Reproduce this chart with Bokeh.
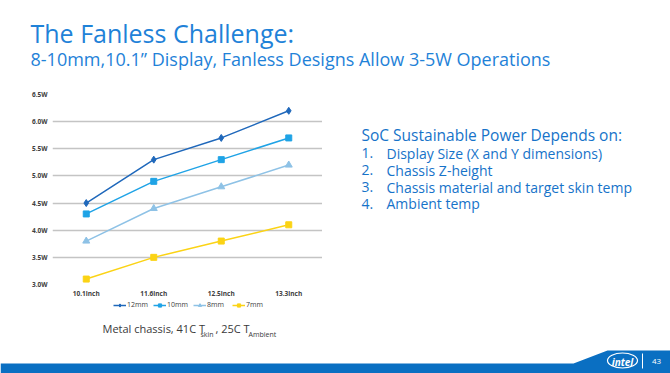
from bokeh.plotting import figure
from bokeh.models import Legend, LegendItem, FixedTicker, Range1d
from bokeh.layouts import column, row
from bokeh.embed import file_html
from bokeh.resources import INLINE
from bokeh.core.properties import value

# ---- data ----
sizes = ["10.1inch", "11.6inch", "12.5inch", "13.3inch"]
series_names = ["12mm", "10mm", "8mm", "7mm"]
mm12 = [4.5, 5.3, 5.7, 6.2]
mm10 = [4.3, 4.9, 5.3, 5.7]
mm8 = [3.8, 4.4, 4.8, 5.2]
mm7 = [3.1, 3.5, 3.8, 4.1]
y_ticks = [3.0, 3.5, 4.0, 4.5, 5.0, 5.5, 6.0, 6.5]
y_tick_labels = ["3.0W", "3.5W", "4.0W", "4.5W", "5.0W", "5.5W", "6.0W", "6.5W"]

title_text = "The Fanless Challenge:"
subtitle_text = '8-10mm,10.1\u201d Display, Fanless Designs Allow 3-5W Operations'
side_header = "SoC Sustainable Power Depends on:"
side_numbers = ["1.", "2.", "3.", "4."]
side_items = ["Display Size (X and Y dimensions)", "Chassis Z-height",
              "Chassis material and target skin temp", "Ambient temp"]
foot_main = ["Metal chassis, 41C T", ", 25C T"]
foot_sub = ["skin", "Ambient"]
logo_text = "intel"
page_number = "43"

FONT = value("Open Sans")


def canvas(w, h, x0, y0, top=0, bottom=0):
    """A plain drawing area whose data units are the page's pixels."""
    c = figure(width=w, height=h, x_range=Range1d(x0, x0 + w),
               y_range=Range1d(y0 + h - bottom, y0 + top),
               output_backend="svg", toolbar_location=None,
               x_axis_location=None, y_axis_location=None, min_border=0,
               min_border_top=top, min_border_bottom=bottom)
    c.xgrid.visible = False
    c.ygrid.visible = False
    c.outline_line_color = None
    c.background_fill_color = "white"
    c.border_fill_color = "white"
    return c


def txt(c, x, y, t, size, color, style="normal", align="left"):
    c.text(x=x, y=y, text=t, text_font=FONT, text_font_size=size, text_color=color,
           text_font_style=style, text_align=align, text_baseline="middle")


title_blue = "#1f82d8"
side_blue = "#1673c9"
foot_col = "#3a3a3a"
colors = ["#1f68bb", "#1fa3e6", "#8ec2e6", "#fbd315"]
markers = ["diamond", "square", "triangle", "square"]
msizes = [7, 6, 7, 6]
series = [mm12, mm10, mm8, mm7]

# ---- top: title ----
top = canvas(670, 88, 0, 0)
txt(top, [30], [32.5], [title_text], "25px", title_blue)
txt(top, [30], [58.5], [subtitle_text], "18px", title_blue)

# ---- chart ----
p = figure(x_range=sizes, y_range=(3.0, 6.5), width=322, height=212,
           output_backend="svg", toolbar_location=None,
           min_border_left=52, min_border_right=0,
           min_border_top=6, min_border_bottom=16)
p.outline_line_color = None
p.background_fill_color = "white"
p.border_fill_color = "white"
p.xgrid.grid_line_color = None
p.ygrid.grid_line_color = "#c4c4c4"
p.ygrid.grid_line_width = 1.5
p.yaxis.ticker = FixedTicker(ticks=y_ticks)
p.yaxis.major_label_overrides = dict(zip(y_ticks, y_tick_labels))
for ax in (p.xaxis[0], p.yaxis[0]):
    ax.axis_line_color = None
    ax.major_tick_line_color = None
    ax.minor_tick_line_color = None
    ax.major_tick_out = 0
    ax.major_tick_in = 0
    ax.minor_tick_out = 0
    ax.minor_tick_in = 0
    ax.axis_label_standoff = 0
    ax.major_label_text_font = "Open Sans"
    ax.major_label_text_font_size = "6.5px"
    ax.major_label_text_font_style = "bold"
    ax.major_label_text_color = "#404040"
p.yaxis.major_label_standoff = 5
p.xaxis.major_label_standoff = 4

for name, vals, c, m, ms in zip(series_names, series, colors, markers, msizes):
    p.line(sizes, vals, line_color=c, line_width=1.5)
    p.scatter(sizes, vals, marker=m, size=ms, fill_color=c, line_color=c)

# ---- right: side text (frame aligned with the chart frame) ----
side = canvas(348, 212, 322, 88, top=6, bottom=16)
txt(side, [361], [134.5], [side_header], "15.5px", side_blue)
ys = [152.5, 169.5, 186.5, 203]
txt(side, [361] * 4, ys, side_numbers, "14px", side_blue)
txt(side, [386] * 4, ys, side_items, "14px", side_blue)

# ---- bottom: legend, footnote and band ----
bot = canvas(670, 73, 0, 300)
items = []
for name, vals, c, m, ms in zip(series_names, series, colors, markers, msizes):
    # legend swatches only (hidden renderers in this panel)
    l = bot.line(x=vals[:1], y=vals[:1], line_color=c, line_width=1.5, visible=False)
    s = bot.scatter(x=vals[:1], y=vals[:1], marker=m, size=ms - 1, fill_color=c,
                    line_color=c, visible=False)
    items.append(LegendItem(label=name, renderers=[l, s]))
legend = Legend(items=items, orientation="horizontal", location=(113, 64),
                label_text_font="Open Sans", label_text_font_size="7px",
                label_text_color="#404040", glyph_width=13, glyph_height=8,
                label_height=8, label_standoff=1, spacing=5, padding=0, margin=0,
                border_line_color=None, background_fill_alpha=0,
                inactive_fill_alpha=0)
bot.add_layout(legend)

txt(bot, [102, 215], [328, 328], foot_main, "11px", foot_col)
txt(bot, [200, 248], [333.5, 333.5], foot_sub, "7px", foot_col)
bot.patch([0, 573, 607, 670, 670, 0], [363, 363, 350, 350, 373, 373],
          fill_color="#0a6fc2", line_color=None)
bot.ellipse(x=[622], y=[360], width=[30], height=[15], fill_color=None,
            line_color="white", line_width=1.2)
txt(bot, [622], [361], [logo_text], "10px", "white", style="bold italic", align="center")
bot.segment(x0=[642], y0=[353], x1=[642], y1=[368], line_color="white", line_width=1)
txt(bot, [656], [361], [page_number], "8px", "white", align="center")

layout = column(top, row(p, side), bot)
open("out.html", "w").write(file_html(layout, INLINE))
